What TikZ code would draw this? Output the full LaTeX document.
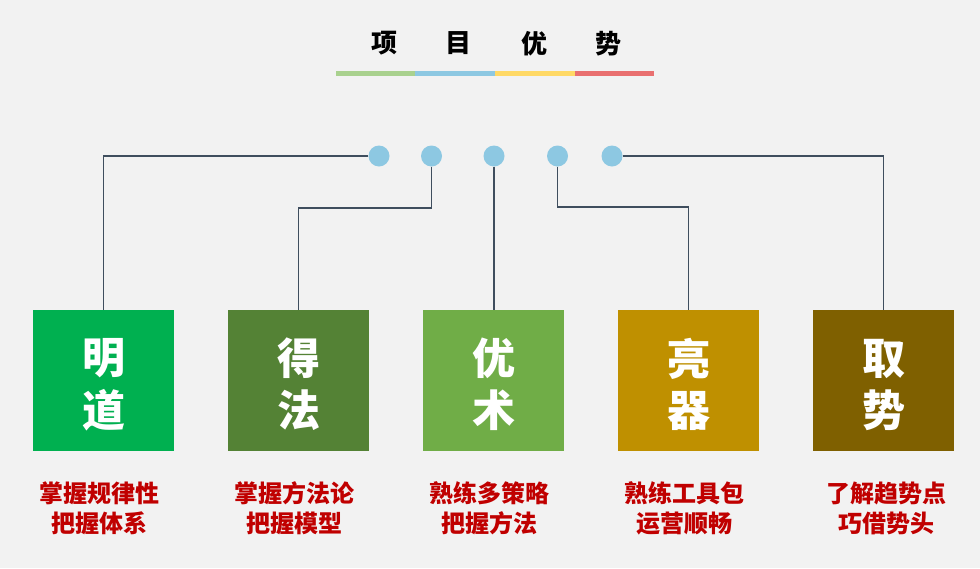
\documentclass[tikz,border=0pt]{standalone}
\usepackage{fontspec}
\newfontfamily\cjk{Noto Sans CJK SC}
\definecolor{bg}{HTML}{F2F2F2}
\definecolor{barg}{HTML}{A9D18E}
\definecolor{barb}{HTML}{8DC8E2}
\definecolor{bary}{HTML}{FFD966}
\definecolor{barr}{HTML}{E97070}
\definecolor{dotc}{HTML}{8DC8E2}
\definecolor{connc}{HTML}{3F4E5E}
\definecolor{cA}{HTML}{00B050}
\definecolor{cB}{HTML}{548235}
\definecolor{cC}{HTML}{70AD47}
\definecolor{cD}{HTML}{BF9000}
\definecolor{cE}{HTML}{7F6000}
\definecolor{capc}{HTML}{C00000}
\tikzset{
  titlech/.style={inner sep=0pt, font=\cjk\bfseries\fontsize{26}{26}\selectfont, text=black},
  dotnode/.style={circle, fill=dotc, minimum size=21pt, inner sep=0pt},
  boxnode/.style={rectangle, minimum size=141pt, inner sep=0pt},
  boxch/.style={inner sep=0pt, text=white, font=\cjk\bfseries\fontsize{43}{43}\selectfont},
  capnode/.style={inner sep=0pt, align=center, text=capc, font=\cjk\bfseries\fontsize{24}{30}\selectfont},
  conn/.style={draw=connc, line width=1.1pt}
}
\begin{document}
\begin{tikzpicture}[x=1pt,y=-1pt]
\fill[bg] (0,0) rectangle (980,568);
\useasboundingbox (0,0) rectangle (980,568);
% title
\node[titlech] (t1) at (384,43.5) {项};
\node[titlech] (t2) at (458,43.5) {目};
\node[titlech] (t3) at (534,43.5) {优};
\node[titlech] (t4) at (608.5,43.5) {势};
\fill[barg] (336,71) rectangle (415,75.5);
\fill[barb] (415,71) rectangle (495,75.5);
\fill[bary] (495,71) rectangle (575,75.5);
\fill[barr] (575,71) rectangle (654,75.5);
% dots
\node[dotnode] (d1) at (379,156) {};
\node[dotnode] (d2) at (431.5,156) {};
\node[dotnode] (d3) at (494,156) {};
\node[dotnode] (d4) at (557.5,156) {};
\node[dotnode] (d5) at (612,156) {};
% boxes
\node[boxnode, fill=cA] (b1) at (103.5,380.5) {};
\node[boxnode, fill=cB] (b2) at (298.5,380.5) {};
\node[boxnode, fill=cC] (b3) at (493.5,380.5) {};
\node[boxnode, fill=cD] (b4) at (688.5,380.5) {};
\node[boxnode, fill=cE] (b5) at (883.5,380.5) {};
% box chars
\node[boxch] (b1a) at (103.5,358.5) {明};
\node[boxch] (b1b) at (103.5,410.5) {道};
\node[boxch] (b2a) at (298.5,358.5) {得};
\node[boxch] (b2b) at (298.5,410.5) {法};
\node[boxch] (b3a) at (493.5,358.5) {优};
\node[boxch] (b3b) at (493.5,410.5) {术};
\node[boxch] (b4a) at (688.5,358.5) {亮};
\node[boxch] (b4b) at (688.5,410.5) {器};
\node[boxch] (b5a) at (883.5,358.5) {取};
\node[boxch] (b5b) at (883.5,410.5) {势};
% captions
\node[capnode] (c1) at (99,508) {掌握规律性\\把握体系};
\node[capnode] (c2) at (294.5,508) {掌握方法论\\把握模型};
\node[capnode] (c3) at (489.5,508) {熟练多策略\\把握方法};
\node[capnode] (c4) at (684,508) {熟练工具包\\运营顺畅};
\node[capnode] (c5) at (886,508) {了解趋势点\\巧借势头};
% connectors
\coordinate (k2) at (0,208);
\coordinate (k4) at (0,207);
\draw[conn] (d1.west) -| (b1.north);
\draw[conn] (d2.south) |- (b2.north |- k2) -- (b2.north);
\draw[conn] (d3.south) -- (d3.south |- b3.north);
\draw[conn] (d4.south) |- (b4.north |- k4) -- (b4.north);
\draw[conn] (d5.east) -| (b5.north);
\end{tikzpicture}
\end{document}
